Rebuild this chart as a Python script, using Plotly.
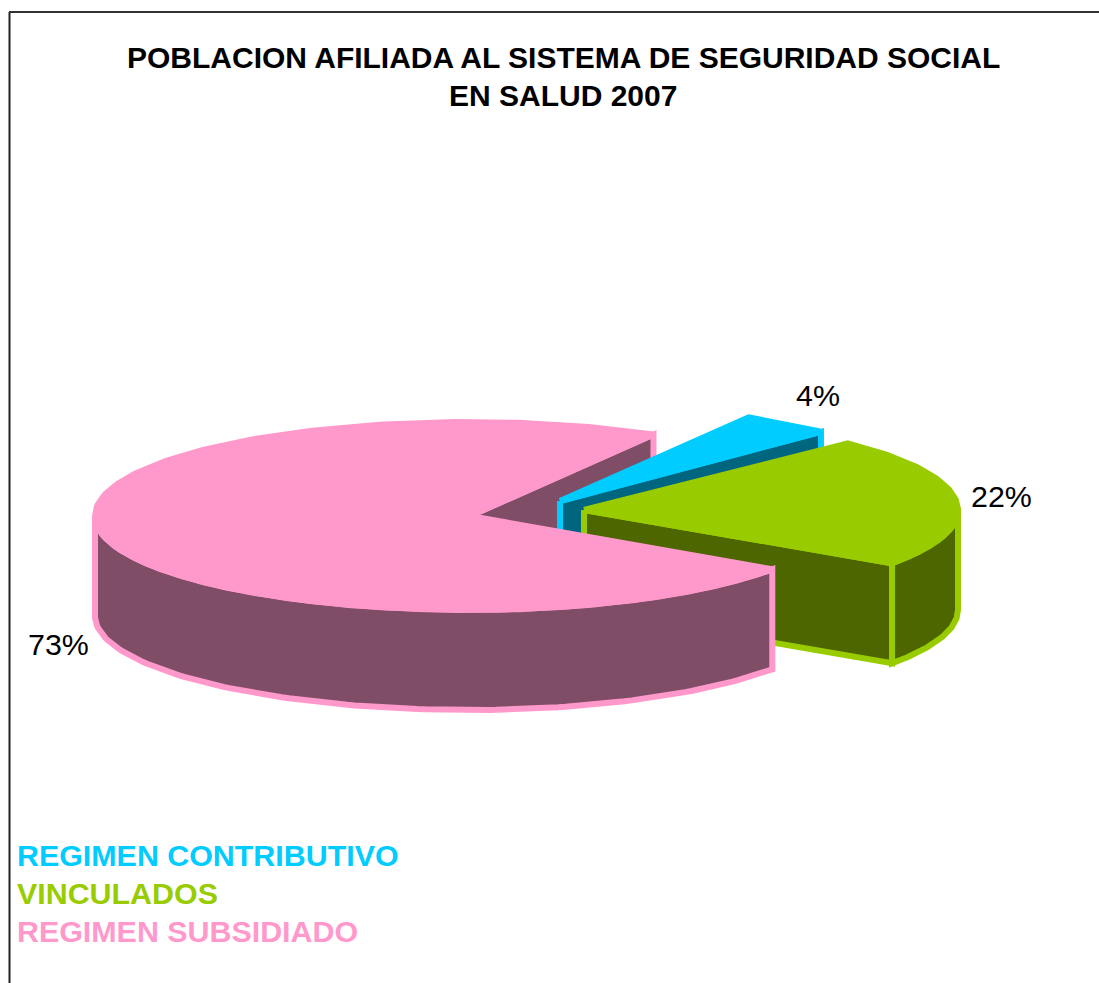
import numpy as np
import plotly.graph_objects as go

TITLE_LINES = ["POBLACION AFILIADA AL SISTEMA DE SEGURIDAD SOCIAL", "EN SALUD 2007"]
categories = ["REGIMEN CONTRIBUTIVO", "VINCULADOS", "REGIMEN SUBSIDIADO"]
shares = [4, 22, 73]
top_colors = ["#00CCFF", "#99CC00", "#FF99CC"]
side_colors = ["#006680", "#4D6600", "#804D66"]
label_xy = [(818, 395), (1001, 496), (58, 644)]
legend_y = [855, 893, 931]

START_DEG = 60.0
DEPTH = 100
CENTERS = [(560, 501), (584, 510), (470, 516)]
# left half-axis, right half-axis, vertical half-axis
RADII = [(372, 372, 97), (374, 374, 94), (375, 367, 94)]
LW = 6

total = sum(shares)
spans = [s / total * 360 for s in shares]
starts = [START_DEG - sum(spans[:i]) for i in range(3)]
ends = [starts[i] - spans[i] for i in range(3)]


def rim(i, a0, a1, n=120):
    t = np.radians(np.linspace(a0, a1, n))
    cx, cy = CENTERS[i]
    al, ar, b = RADII[i]
    c = np.cos(t)
    return cx + np.where(c < 0, al, ar) * c, cy - b * np.sin(t)


def polygon(fig, xs, ys, fill, line):
    fig.add_trace(go.Scatter(
        x=list(xs) + [xs[0]], y=list(ys) + [ys[0]], mode="lines", fill="toself",
        fillcolor=fill, line=dict(color=line, width=LW), hoverinfo="skip"))


def top(fig, i):
    x, y = rim(i, starts[i], ends[i], 240)
    cx, cy = CENTERS[i]
    polygon(fig, np.r_[cx, x], np.r_[cy, y], top_colors[i], top_colors[i])


def cut_face(fig, i, ang):
    x, y = rim(i, ang, ang, 1)
    cx, cy = CENTERS[i]
    polygon(fig, [cx, x[0], x[0], cx], [cy, y[0], y[0] + DEPTH, cy + DEPTH],
            side_colors[i], top_colors[i])


def rim_side(fig, i, a0, a1):
    x, y = rim(i, a0, a1)
    polygon(fig, np.r_[x, x[::-1]], np.r_[y, y[::-1] + DEPTH],
            side_colors[i], top_colors[i])


fig = go.Figure()
# back cut face of the largest slice
cut_face(fig, 2, START_DEG)
# first slice
cut_face(fig, 0, ends[0])
top(fig, 0)
# second slice
cut_face(fig, 1, ends[1])
rim_side(fig, 1, ends[1], 0)
top(fig, 1)
# largest slice, front
rim_side(fig, 2, -180, ends[1])
top(fig, 2)

for i, (lx, ly) in enumerate(label_xy):
    fig.add_annotation(x=lx, y=ly, text=f"{shares[i]}%", showarrow=False,
                       font=dict(size=30.4, color="#000000"))
for i, name in enumerate(categories):
    fig.add_annotation(x=15, y=legend_y[i], text=f"<b>{name}</b>", showarrow=False,
                       xanchor="left", font=dict(size=30.4, color=top_colors[i]))
for yy, line in zip([57, 95], TITLE_LINES):
    fig.add_annotation(x=563, y=yy, text=f"<b>{line}</b>", showarrow=False,
                       font=dict(size=30, color="#000000"))

fig.add_shape(type="line", x0=9.5, x1=9.5, y0=12, y1=983, line=dict(color="#222222", width=2))
fig.add_shape(type="line", x0=9, x1=1099, y0=12, y1=12, line=dict(color="#333333", width=2))

fig.update_layout(
    width=1099, height=983, margin=dict(l=0, r=0, t=0, b=0),
    paper_bgcolor="#FFFFFF", plot_bgcolor="#FFFFFF", showlegend=False,
    font=dict(family="Liberation Sans, Arial, sans-serif"),
    xaxis=dict(range=[0, 1099], visible=False, fixedrange=True),
    yaxis=dict(range=[983, 0], visible=False, fixedrange=True),
)
fig.write_html("out.html", config={"displayModeBar": False},
               post_script="document.body.style.margin='0';document.body.style.overflow='hidden';")
